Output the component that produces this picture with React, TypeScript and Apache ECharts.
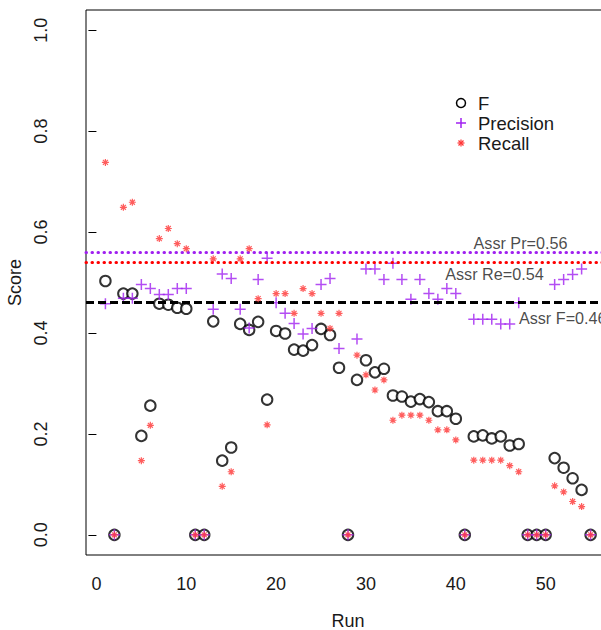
import React, { useEffect, useRef } from "react";
import * as echarts from "echarts";

const runs = [1,2,3,4,5,6,7,8,9,10,11,12,13,14,15,16,17,18,19,20,21,22,23,24,25,26,27,28,29,30,31,32,33,34,35,36,37,38,39,40,41,42,43,44,45,46,47,48,49,50,51,52,53,54,55];
const fValues = [0.503,0,0.478,0.478,0.196,0.256,0.458,0.456,0.45,0.448,0,0,0.423,0.147,0.173,0.418,0.406,0.422,0.268,0.404,0.399,0.367,0.365,0.376,0.408,0.396,0.331,0,0.307,0.346,0.322,0.329,0.276,0.274,0.264,0.269,0.263,0.245,0.245,0.23,0,0.195,0.197,0.191,0.195,0.177,0.18,0,0,0,0.152,0.133,0.112,0.089,0];
const precisionValues = [0.458,0,0.469,0.469,0.496,0.488,0.476,0.476,0.488,0.488,0,0,0.447,0.517,0.508,0.447,0.41,0.506,0.548,0.46,0.439,0.419,0.398,0.409,0.496,0.508,0.369,0,0.388,0.527,0.527,0.506,0.538,0.506,0.467,0.506,0.478,0.467,0.488,0.478,0,0.427,0.427,0.427,0.418,0.418,0.46,0,0,0,0.496,0.506,0.516,0.527,0];
const recallValues = [0.738,0,0.649,0.659,0.147,0.217,0.587,0.607,0.577,0.567,0,0,0.547,0.096,0.125,0.547,0.567,0.468,0.218,0.478,0.478,0.439,0.488,0.478,0.439,0.409,0.439,0,0.356,0.317,0.287,0.307,0.227,0.237,0.237,0.237,0.227,0.208,0.208,0.188,0,0.148,0.148,0.148,0.148,0.137,0.125,0,0,0,0.097,0.085,0.066,0.056,0];

const assrPr = 0.56;
const assrRe = 0.54;
const assrF = 0.46;
const xTicks = [0, 10, 20, 30, 40, 50];
const yTicks = [0, 0.2, 0.4, 0.6, 0.8, 1.0];
const annotations = [
  { text: "Assr Pr=0.56", x: 47.2, y: 0.578 },
  { text: "Assr Re=0.54", x: 44.3, y: 0.517 },
  { text: "Assr F=0.46", x: 51.9, y: 0.429 },
];

const FONT = "'Liberation Sans', Arial, sans-serif";
const PURPLE = "#a020f0";
const RED = "#ff3535";
const TXT = "#1a1a1a";

const plusPath = "path://M5 0V10M0 5H10";
const starPath = "path://M5 0V10M0 5H10M1.46 1.46L8.54 8.54M8.54 1.46L1.46 8.54";

export default function App() {
  const ref = useRef<HTMLDivElement>(null);
  useEffect(() => {
    if (!ref.current) return;
    const chart = echarts.init(ref.current, null, { renderer: "svg" });
    const pair = (vals: number[]) => runs.map((r, i) => [r, vals[i]]);
    const legendY = [103, 123, 143];
    chart.setOption({
      animation: false,
      backgroundColor: "#fff",
      textStyle: { fontFamily: FONT },
      grid: {
        left: 86, top: 10, width: 524, height: 545,
        outerBoundsMode: "none",
        containLabel: false,
        show: true, borderColor: "#000", borderWidth: 1, backgroundColor: "transparent",
      },
      xAxis: {
        type: "value",
        min: -1.16,
        max: 57.16,
        name: "Run",
        nameLocation: "middle",
        nameGap: 57,
        nameTextStyle: { fontSize: 18, color: TXT, fontFamily: FONT },
        axisLine: { show: false },
        axisTick: { show: false },
        splitLine: { show: false },
        axisLabel: { customValues: xTicks, margin: 20, fontSize: 18, color: TXT, fontFamily: FONT },
      },
      yAxis: {
        type: "value",
        min: -0.04,
        max: 1.04,
        name: "Score",
        nameLocation: "middle",
        nameGap: 60,
        nameRotate: 90,
        nameTextStyle: { fontSize: 18, color: TXT, fontFamily: FONT },
        axisLine: { show: false },
        axisTick: { show: true, customValues: yTicks, length: 8, lineStyle: { color: "#000", width: 1 } },
        splitLine: { show: false },
        axisLabel: {
          customValues: yTicks,
          rotate: 90,
          margin: 36,
          fontSize: 18,
          color: TXT,
          fontFamily: FONT,
          formatter: (v: number) => v.toFixed(1),
        },
      },
      series: [
        {
          type: "scatter",
          name: "F",
          data: pair(fValues),
          symbol: "emptyCircle",
          symbolSize: 10.5,
          itemStyle: { color: "#000", borderColor: "#000", borderWidth: 1.5 },
          z: 3,
          markLine: {
            silent: true,
            symbol: "none",
            label: { show: false },
            data: [
              { yAxis: assrPr, lineStyle: { color: PURPLE, width: 3, type: [0.5, 5.5], cap: "round" } },
              { yAxis: assrRe, lineStyle: { color: "#ff0000", width: 3, type: [0.5, 5.5], cap: "round" } },
              { yAxis: assrF, lineStyle: { color: "#000", width: 3, type: [8, 4] } },
            ],
          },
        },
        {
          type: "scatter",
          name: "Precision",
          data: pair(precisionValues),
          symbol: plusPath,
          symbolSize: 11,
          itemStyle: { color: "rgba(0,0,0,0)", borderColor: PURPLE, borderWidth: 1.5 },
          z: 4,
        },
        {
          type: "scatter",
          name: "Recall",
          data: pair(recallValues),
          symbol: starPath,
          symbolSize: 7,
          itemStyle: { color: "rgba(0,0,0,0)", borderColor: RED, borderWidth: 1.2 },
          z: 5,
        },
        {
          type: "scatter",
          name: "annotations",
          data: annotations.map((a) => ({ value: [a.x, a.y], name: a.text })),
          symbolSize: 0,
          silent: true,
          itemStyle: { color: "rgba(0,0,0,0)" },
          label: {
            show: true,
            position: "inside",
            formatter: (p: any) => p.name,
            fontSize: 16.2,
            color: TXT,
            fontFamily: FONT,
          },
          z: 6,
        },
      ],
      graphic: [
        { type: "circle", shape: { cx: 461, cy: legendY[0], r: 4.5 }, style: { fill: "none", stroke: "#000", lineWidth: 1.5 } },
        { type: "line", shape: { x1: 456, y1: legendY[1], x2: 466, y2: legendY[1] }, style: { stroke: PURPLE, lineWidth: 1.5 } },
        { type: "line", shape: { x1: 461, y1: legendY[1] - 5, x2: 461, y2: legendY[1] + 5 }, style: { stroke: PURPLE, lineWidth: 1.5 } },
        { type: "line", shape: { x1: 457.5, y1: legendY[2], x2: 464.5, y2: legendY[2] }, style: { stroke: RED, lineWidth: 1.2 } },
        { type: "line", shape: { x1: 461, y1: legendY[2] - 3.5, x2: 461, y2: legendY[2] + 3.5 }, style: { stroke: RED, lineWidth: 1.2 } },
        { type: "line", shape: { x1: 458.5, y1: legendY[2] - 2.5, x2: 463.5, y2: legendY[2] + 2.5 }, style: { stroke: RED, lineWidth: 1.2 } },
        { type: "line", shape: { x1: 463.5, y1: legendY[2] - 2.5, x2: 458.5, y2: legendY[2] + 2.5 }, style: { stroke: RED, lineWidth: 1.2 } },
        { type: "text", x: 478, y: legendY[0], style: { text: "F", fontSize: 18.5, fill: TXT, fontFamily: FONT, verticalAlign: "middle" } },
        { type: "text", x: 478, y: legendY[1], style: { text: "Precision", fontSize: 18.5, fill: TXT, fontFamily: FONT, verticalAlign: "middle" } },
        { type: "text", x: 478, y: legendY[2], style: { text: "Recall", fontSize: 18.5, fill: TXT, fontFamily: FONT, verticalAlign: "middle" } },
      ],
    });
    return () => chart.dispose();
  }, []);
  return (
    <div style={{ position: "fixed", left: 0, top: 0, width: 601, height: 630, overflow: "hidden", background: "#fff" }}>
      <div ref={ref} style={{ width: 625, height: 630 }} />
    </div>
  );
}
